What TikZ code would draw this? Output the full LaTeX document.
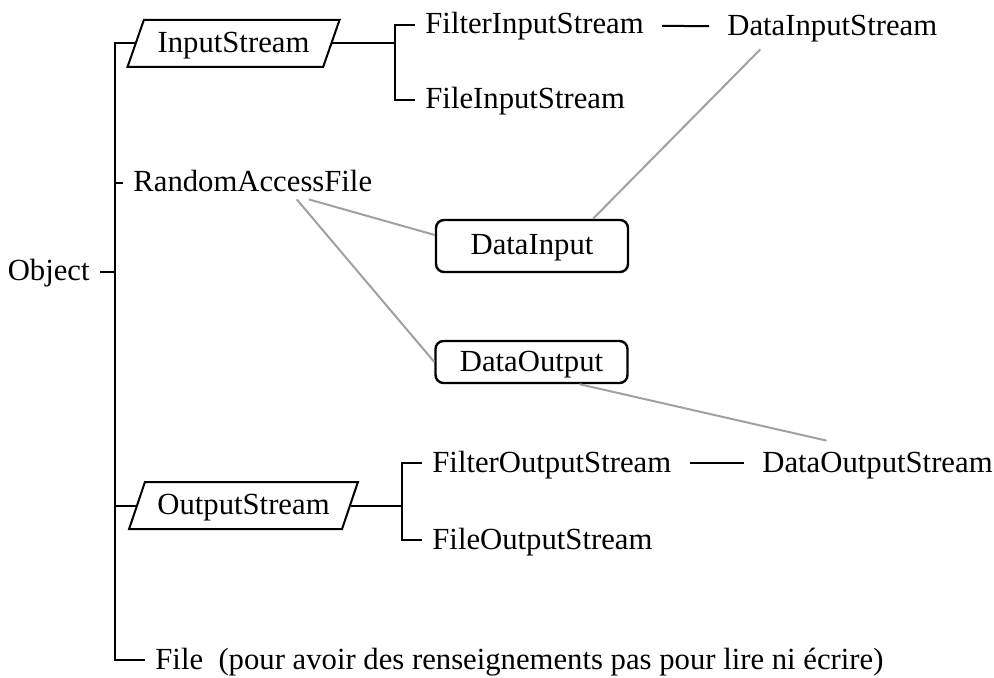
\documentclass[tikz,border=0pt]{standalone}
\usepackage{fontspec}
\setmainfont{Liberation Serif}
\usepackage{tikz}
\usetikzlibrary{positioning,shapes.geometric}
\definecolor{linkgray}{HTML}{A0A0A0}

\begin{document}
\begin{tikzpicture}[
        x=0.5pt, y=-0.5pt,
        every node/.style={
            font=\fontsize{15.35}{18}\selectfont,
            text height=10.5pt,
            text depth=1.5pt,
            inner sep=5pt
        },
        stream/.style={
            trapezium,
            draw,
            line width=1pt,
            trapezium left angle=60,
            trapezium right angle=120,
            trapezium stretches=true,
            minimum height=23.5pt,
            inner sep=0pt
        },
        iface/.style={
            rectangle,
            draw,
            line width=1.2pt,
            rounded corners=4pt,
            inner ysep=4pt,
            minimum width=96pt
        },
        tree/.style={
            line width=1pt
        },
        pair/.style={
            line width=1pt,
            shorten <=4pt,
            shorten >=4pt
        },
        assoc/.style={
            line width=1pt,
            color=linkgray
        }
    ]
        \useasboundingbox (0,0) rectangle (994,678);

        % hierarchy spine and brackets
        \coordinate (trunk) at (115,0);
        \coordinate (ibr) at (395,0);
        \coordinate (obr) at (402,0);

        \node (obj) [anchor=east] at (100,272) {Object};
        \node (ins) [stream, minimum width=106.5pt] at (233.5,43.5) {InputStream};
        \node (raf) [anchor=west] at (123,183) {RandomAccessFile};
        \node (outs) [stream, minimum width=114.5pt] at (243.5,505.5) {OutputStream};
        \node (file) [anchor=west] at (145,660) {File\ \ (pour avoir des renseignements pas pour lire ni écrire)};

        \node (fis) [anchor=west] at (415,25) {FilterInputStream};
        \node (fil) [anchor=west] at (415,100) {FileInputStream};
        \node (dis) [anchor=west] at (717,27) {DataInputStream};

        \node (fos) [anchor=west] at (422,463) {FilterOutputStream};
        \node (fol) [anchor=west] at (422,540) {FileOutputStream};
        \node (dos) [anchor=west] at (752,463) {DataOutputStream};

        \node (di) [iface, minimum height=26pt] at (532,246) {DataInput};
        \node (dob) [iface, minimum height=21pt] at (531.5,362) {DataOutput};

        % black tree lines
        \draw[tree] (ins.left side) -- (ins.left side -| trunk) -- (trunk |- file.west) -- (file.west);
        \draw[tree] (outs.left side) -- (outs.left side -| trunk);
        \draw[tree] (obj.east) -- (obj.east -| trunk);
        \draw[tree] (raf.west -| trunk) -- (raf.west);

        \draw[tree] (ins.right side) -- (ins.right side -| ibr);
        \draw[tree] (fis.west) -- (fis.west -| ibr) -- (fil.west -| ibr) -- (fil.west);
        \draw[tree] (outs.right side) -- (outs.right side -| obr);
        \draw[tree] (fos.west) -- (fos.west -| obr) -- (fol.west -| obr) -- (fol.west);

        \draw[pair] (fis) -- (dis);
        \draw[pair] (fos) -- (dos);

        % gray links to the interfaces
        \draw[assoc] ([xshift=28pt,yshift=3pt]raf.south) -- ([yshift=5.5pt]di.west);
        \draw[assoc] ([xshift=22pt,yshift=3pt]raf.south) -- (dob.west);
        \draw[assoc] ([xshift=-36pt]dis.south) -- ([xshift=30.5pt]di.north);
        \draw[assoc] ([xshift=24pt]dob.south) -- ([xshift=-25.5pt]dos.north);
    \end{tikzpicture}
\end{document}
